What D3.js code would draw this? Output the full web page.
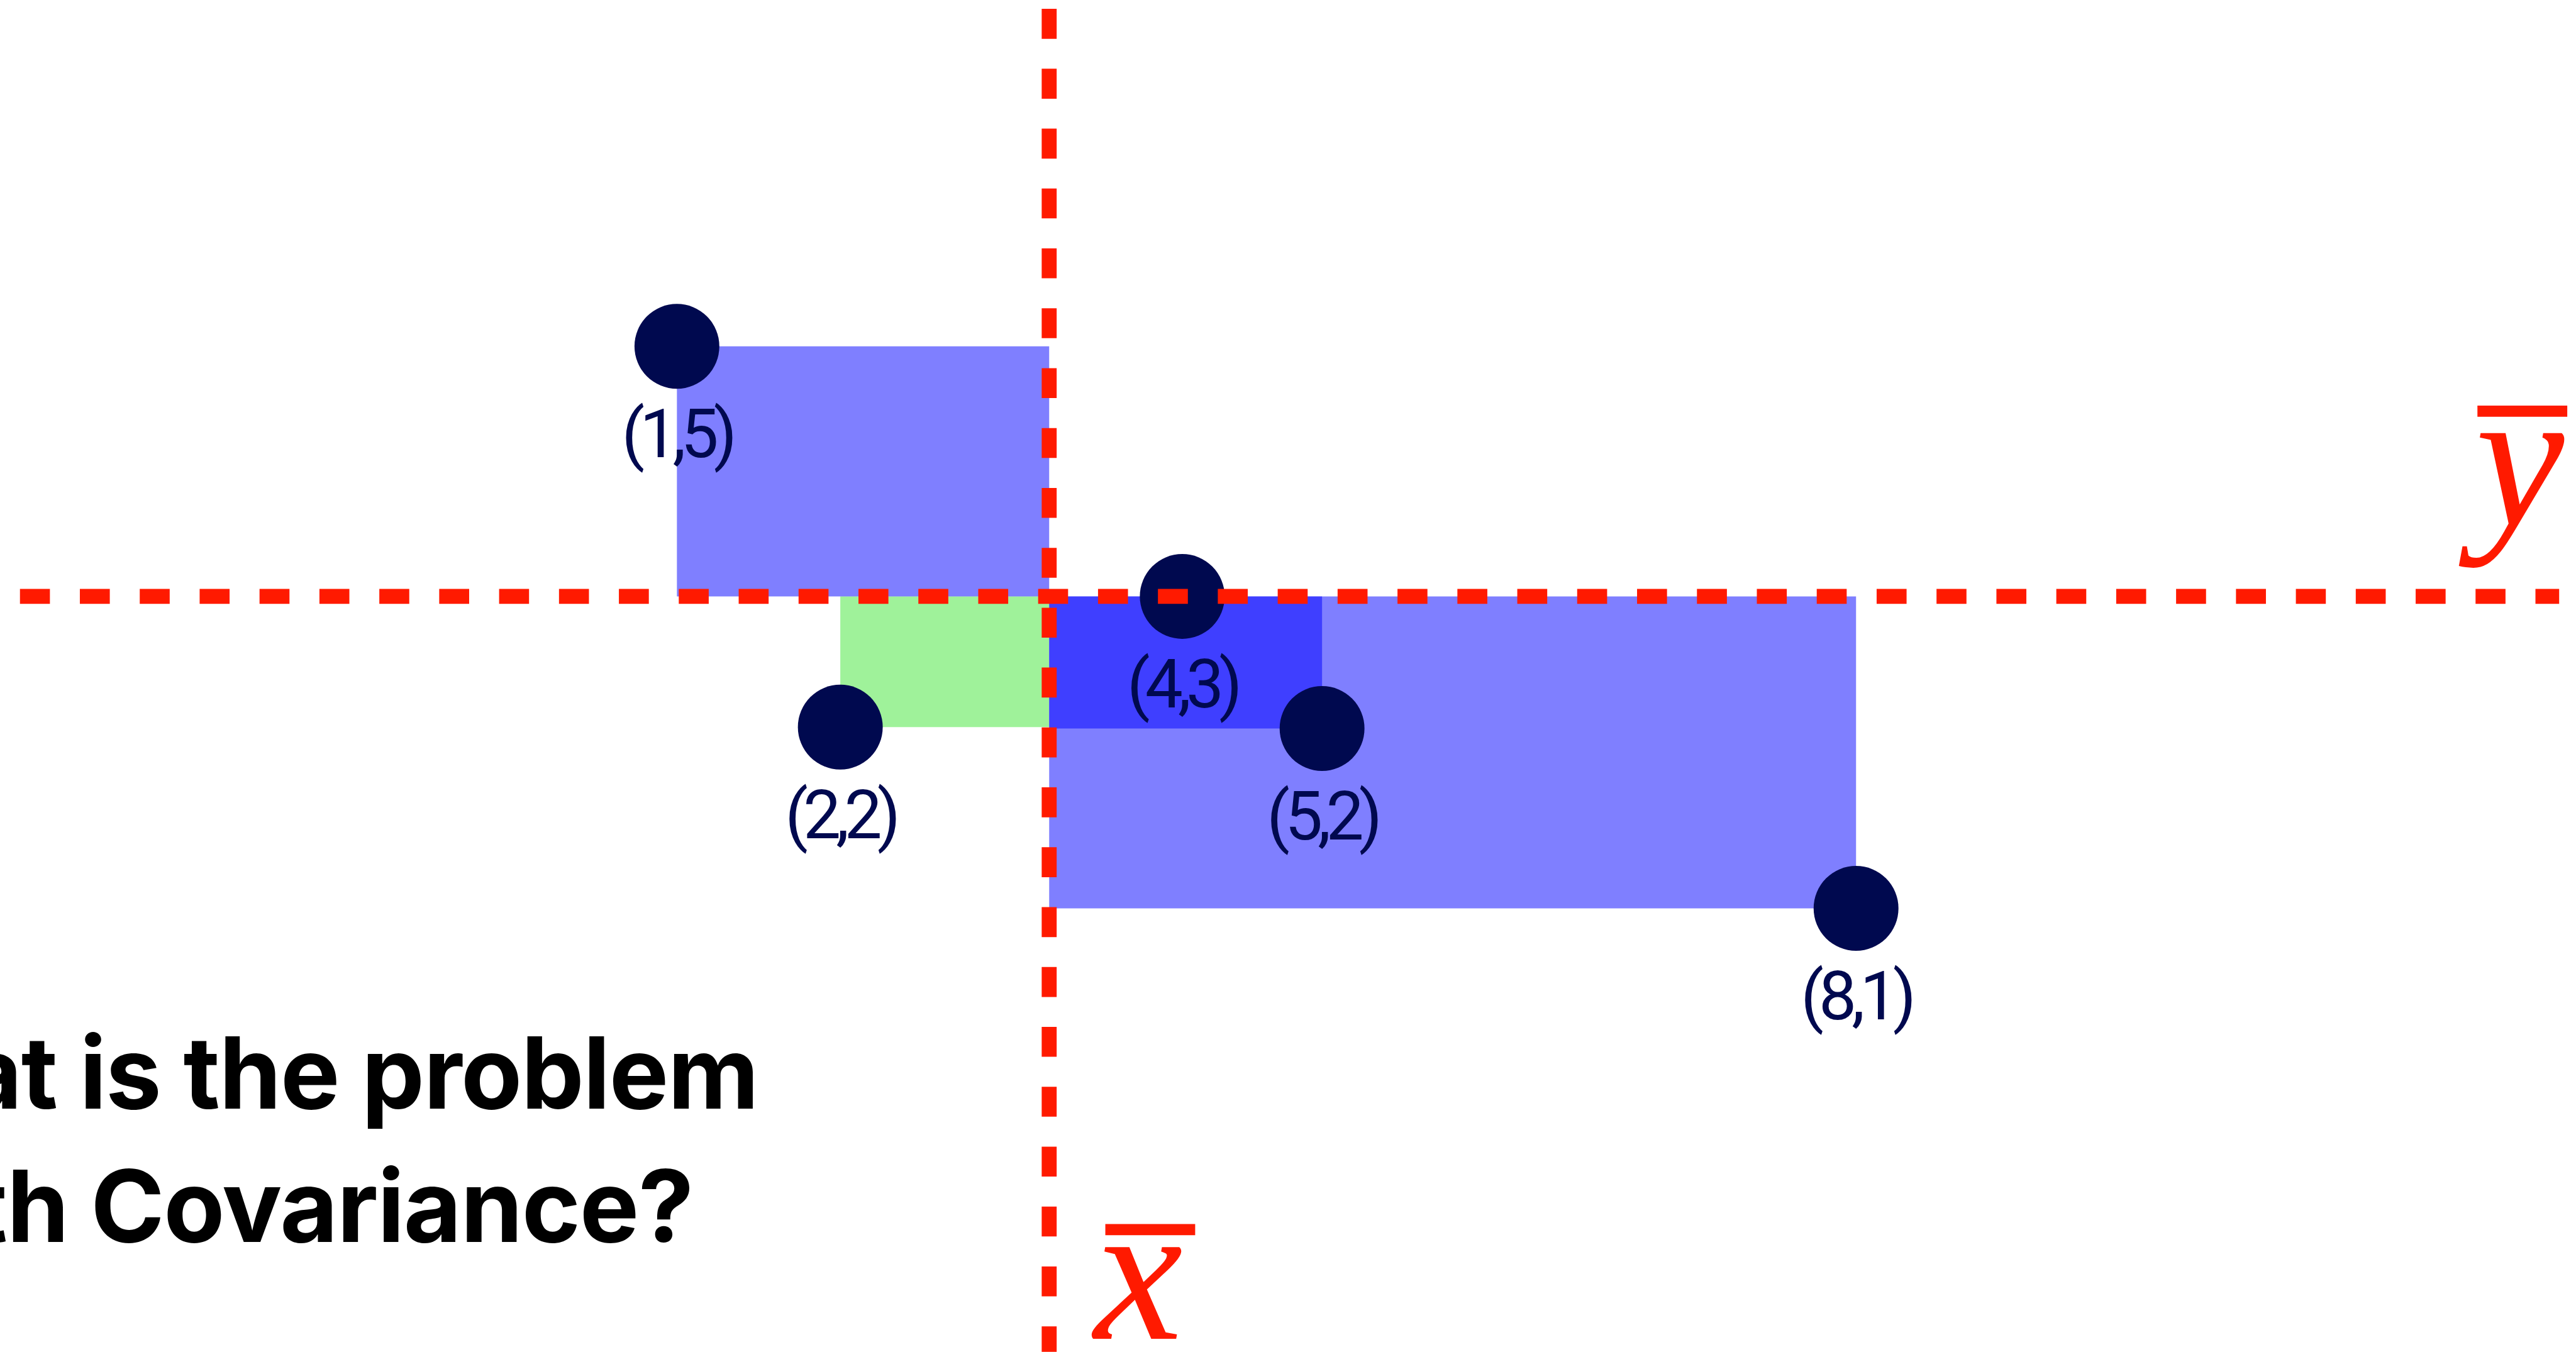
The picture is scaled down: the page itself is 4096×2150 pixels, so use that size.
<!DOCTYPE html>
<html>
<head>
<meta charset="utf-8">
<script src="https://cdn.jsdelivr.net/npm/d3@7"></script>
<style>
    html, body { margin: 0; padding: 0; background: #ffffff; overflow: hidden; }
    svg { display: block; }
</style>
</head>
<body>
<svg id="drawing_region"></svg>
<script>
// points as they sit on the slide (positions, labels as printed)
const pointLabels = ['(1,5)', '(2,2)', '(4,3)', '(5,2)', '(8,1)'];
const pointX = [1.0, 1.97, 4.0, 4.83, 8.0];
const pointY = [5.0, 2.29, 3.22, 2.28, 1.0];

// where the two mean lines are drawn
const meanX = 3.21;
const meanY = 3.22;

const titleLines = ['What is the problem', 'with Covariance?'];

const data = pointLabels.map( (label, i) => ({ label: label, x: pointX[i], y: pointY[i] }) );

class CovariancePlot {

    constructor( config, data ) {
        this.config = {
            parent: config.parent,
            width: config.width || 4129,
            height: config.height || 2167,
            scale: config.scale || 1
        };
        this.data = data;
        this.init();
    }

    init() {
        let self = this;

        // draw in the reference's own units, viewBox shrinks it to the window
        self.svg = d3.select( self.config.parent )
            .attr('width', Math.round(self.config.width * self.config.scale))
            .attr('height', Math.round(self.config.height * self.config.scale))
            .attr('viewBox', `0 0 ${self.config.width} ${self.config.height}`);

        self.xscale = d3.scaleLinear()
            .domain( [0, 10] )
            .range( [815, 3515] );

        self.yscale = d3.scaleLinear()
            .domain( [0, 6] )
            .range( [1681.25, 329.75] );

        self.red = '#ff1a00';
        self.navy = '#00094f';
    }

    render() {
        let self = this;
        const xs = self.xscale, ys = self.yscale;

        // deviation rectangles, green ones under the translucent blue ones
        const rects = self.data.map( d => ({
            x0: Math.min( xs(d.x), xs(meanX) ),
            x1: Math.max( xs(d.x), xs(meanX) ),
            y0: Math.min( ys(d.y), ys(meanY) ),
            y1: Math.max( ys(d.y), ys(meanY) ),
            pos: (d.x - meanX) * (d.y - meanY) > 0
        }) ).sort( (a, b) => b.pos - a.pos );

        self.svg.append('g')
            .selectAll('rect')
            .data(rects)
            .join('rect')
            .attr('x', d => d.x0)
            .attr('y', d => d.y0)
            .attr('width', d => d.x1 - d.x0)
            .attr('height', d => d.y1 - d.y0)
            .attr('fill', d => d.pos ? '#9ff29a' : 'rgba(0,0,255,0.5)');

        self.svg.append('g')
            .selectAll('circle')
            .data(self.data)
            .join('circle')
            .attr('cx', d => xs(d.x))
            .attr('cy', d => ys(d.y))
            .attr('r', 68)
            .attr('fill', self.navy);

        self.svg.append('g')
            .selectAll('text')
            .data(self.data)
            .join('text')
            .attr('x', d => xs(d.x))
            .attr('y', d => ys(d.y) + 178)
            .attr('text-anchor', 'middle')
            .attr('font-family', 'Roboto, "Noto Sans", sans-serif')
            .attr('font-size', 108)
            .attr('letter-spacing', -8)
            .attr('fill', self.navy)
            .text(d => d.label);

        // dashed mean lines
        const dash = self.svg.append('g')
            .attr('stroke', self.red)
            .attr('stroke-width', 24)
            .attr('stroke-dasharray', '48 48');

        dash.append('line')
            .attr('x1', xs(meanX)).attr('x2', xs(meanX))
            .attr('y1', 14).attr('y2', self.config.height);

        dash.append('line')
            .attr('x1', 32).attr('x2', 4102)
            .attr('y1', ys(meanY)).attr('y2', ys(meanY));

        // x-bar / y-bar
        const bars = self.svg.append('g');
        const mathFont = '"Liberation Serif", "DejaVu Serif", serif';

        bars.append('text')
            .attr('x', xs(meanX) + 72)
            .attr('y', 2146)
            .attr('font-family', mathFont)
            .attr('font-style', 'italic')
            .attr('font-size', 320)
            .attr('fill', self.red)
            .text('x');
        bars.append('line')
            .attr('x1', xs(meanX) + 90).attr('x2', xs(meanX) + 234)
            .attr('y1', 1971).attr('y2', 1971)
            .attr('stroke', self.red).attr('stroke-width', 18);

        bars.append('text')
            .attr('x', 3968)
            .attr('y', ys(meanY) - 115)
            .attr('font-family', mathFont)
            .attr('font-style', 'italic')
            .attr('font-size', 320)
            .attr('fill', self.red)
            .text('y');
        bars.append('line')
            .attr('x1', 3971).attr('x2', 4115)
            .attr('y1', ys(meanY) - 297).attr('y2', ys(meanY) - 297)
            .attr('stroke', self.red).attr('stroke-width', 18);

        // the question, running off the left edge as on the slide
        self.svg.append('g')
            .selectAll('text')
            .data(titleLines)
            .join('text')
            .attr('x', (d, i) => i == 0 ? 1215 : 1111)
            .attr('y', (d, i) => 1777 + i * 214)
            .attr('text-anchor', 'end')
            .attr('font-family', 'Inter, "Open Sans", sans-serif')
            .attr('font-weight', 700)
            .attr('font-size', 160)
            .attr('letter-spacing', -1.5)
            .attr('fill', '#000000')
            .text(d => d);
    }
}

var config = {
    parent: '#drawing_region',
    width: 4129,
    height: 2167,
    scale: 4096 / 4129
};

const plot = new CovariancePlot( config, data );
plot.render();
</script>
</body>
</html>
